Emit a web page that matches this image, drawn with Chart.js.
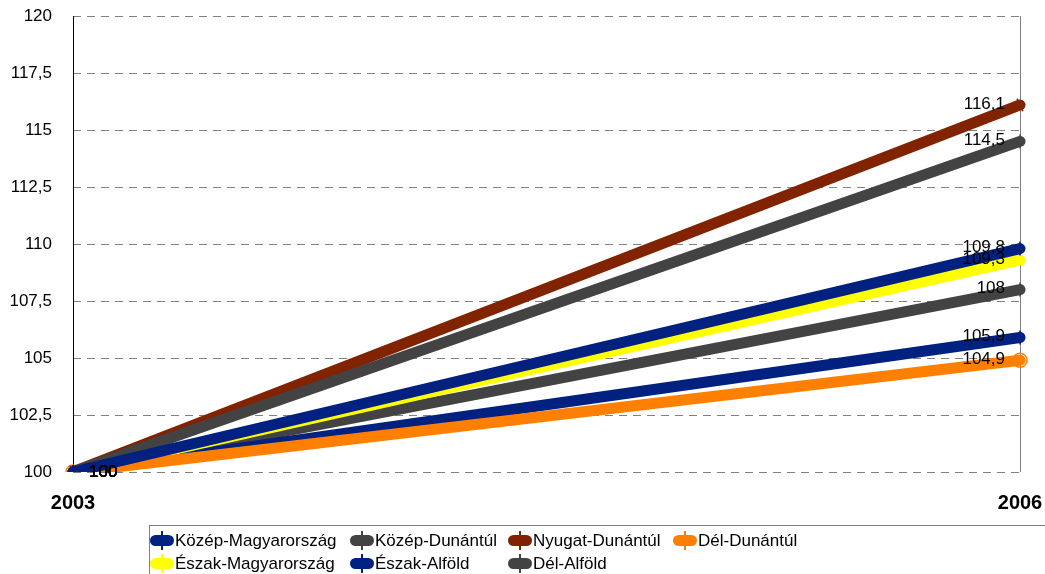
<!DOCTYPE html>
<html>
<head>
<meta charset="utf-8">
<script src="https://cdn.jsdelivr.net/npm/chart.js@4"></script>
<style>
  body { margin: 0; background: #fff; font-family: "Liberation Sans", Arial, sans-serif; }
  #wrap { position: relative; width: 1045px; height: 574px; overflow: hidden; }
  #legend {
    position: absolute; left: 149px; top: 525px; width: 960px; height: 60px;
    border: 1px solid #808080; box-sizing: border-box;
    display: grid; grid-template-columns: 200px 158px 165px auto;
    grid-auto-rows: 23px; padding-top: 3px; font-size: 17px; color: #000;
  }
  .item { display: flex; align-items: center; white-space: nowrap; }
  .sym { position: relative; width: 24px; height: 11px; border-radius: 6px; margin-right: 1px; }
  .sym i { position: absolute; left: 11px; top: -4px; width: 2px; height: 19px; }
</style>
</head>
<body>
<div id="wrap">
  <canvas id="myChart" width="1045" height="574"></canvas>
  <div id="legend"></div>
</div>
<script>
const years = ['2003', '2006'];
const regions = [
  'Közép-Magyarország',
  'Közép-Dunántúl',
  'Nyugat-Dunántúl',
  'Dél-Dunántúl',
  'Észak-Magyarország',
  'Észak-Alföld',
  'Dél-Alföld',
];
const kozepMagyarorszag = [100, 109.8];
const kozepDunantul = [100, 114.5];
const nyugatDunantul = [100, 116.1];
const delDunantul = [100, 104.9];
const eszakMagyarorszag = [100, 109.3];
const eszakAlfold = [100, 105.9];
const delAlfold = [100, 108];

const values = [kozepMagyarorszag, kozepDunantul, nyugatDunantul, delDunantul, eszakMagyarorszag, eszakAlfold, delAlfold];
const colors = ['#00217f', '#434343', '#822300', '#ff8000', '#ffff00', '#00217f', '#434343'];
const markerRot = [90, 90, 65, 0, 60, 90, 90];
const markerStyle = ['line', 'line', 'line', 'circle', 'line', 'line', 'line'];

const fmt = v => String(v).replace('.', ',');
const font = '"Liberation Sans", Arial, sans-serif';

const data = {
  labels: years,
  datasets: regions.map((r, i) => ({
    label: r,
    data: values[i],
    borderColor: colors[i],
    backgroundColor: colors[i],
    borderWidth: 11,
    borderCapStyle: 'round',
    tension: 0,
    pointStyle: markerStyle[i],
    pointRotation: markerRot[i],
    pointRadius: 7,
    pointBorderWidth: 1.5,
    pointBackgroundColor: 'transparent',
    pointBorderColor: colors[i],
    pointHoverRadius: 7,
  })),
};

// value labels: first point to the right, last point to the left
const valueLabels = {
  id: 'valueLabels',
  afterDatasetsDraw(chart) {
    const c = chart.ctx;
    c.save();
    c.font = '17px ' + font;
    c.fillStyle = '#000';
    c.textBaseline = 'middle';
    chart.data.datasets.forEach((ds, i) => {
      const pts = chart.getDatasetMeta(i).data;
      c.textAlign = 'left';
      c.fillText(fmt(ds.data[0]), pts[0].x + 16, pts[0].y);
      const last = pts.length - 1;
      c.textAlign = 'right';
      c.fillText(fmt(ds.data[last]), pts[last].x - 15, pts[last].y - 1);
    });
    c.restore();
  }
};

// solid left axis line over the dashed grid
const leftAxis = {
  id: 'leftAxis',
  beforeDatasetsDraw(chart) {
    const s = chart.scales.y;
    const c = chart.ctx;
    c.save();
    c.strokeStyle = '#000';
    c.lineWidth = 1;
    c.beginPath();
    c.moveTo(s.right + 0.5, s.top);
    c.lineTo(s.right + 0.5, s.bottom);
    c.stroke();
    c.restore();
  }
};

const config = {
  type: 'line',
  data: data,
  plugins: [leftAxis, valueLabels],
  options: {
    responsive: false,
    animation: false,
    layout: { padding: { top: 16, right: 25, left: 0, bottom: 0 } },
    plugins: { legend: { display: false }, tooltip: { enabled: false } },
    scales: {
      x: {
        offset: false,
        border: { display: false },
        grid: {
          drawTicks: false,
          color: ctx => ctx.index === 0 ? 'transparent' : '#808080',
        },
        ticks: {
          padding: 19,
          color: '#000',
          maxRotation: 0,
          font: { family: font, size: 20, weight: 'bold' },
        },
        afterFit: s => { s.height = 102; s.paddingLeft = 0; s.paddingRight = 0; },
      },
      y: {
        min: 100,
        max: 120,
        border: { display: false, dash: [8, 6] },
        grid: { drawTicks: false, color: '#808080' },
        ticks: {
          stepSize: 2.5,
          padding: 21,
          color: '#000',
          font: { family: font, size: 17 },
          callback: v => fmt(v),
        },
        afterFit: s => { s.width = 73; s.paddingTop = 0; s.paddingBottom = 0; },
      },
    },
  },
};

const ctx = document.getElementById('myChart');
const myChart = new Chart(ctx, config);

// legend in an aligned grid
const legend = document.getElementById('legend');
regions.forEach((r, i) => {
  const item = document.createElement('div');
  item.className = 'item';
  item.innerHTML = '<span class="sym" style="background:' + colors[i] + '"><i style="background:' + colors[i] + '"></i></span>' + r;
  legend.appendChild(item);
});
</script>
</body>
</html>
